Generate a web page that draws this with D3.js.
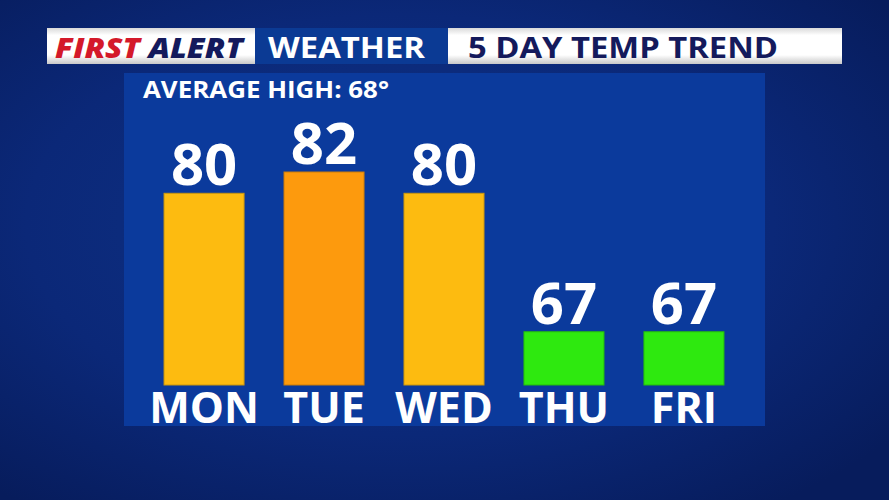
<!DOCTYPE html>
<html><head><meta charset="utf-8">
<script src="https://cdn.jsdelivr.net/npm/d3@7"></script>
<style>html,body{margin:0;padding:0;background:#0b2577;overflow:hidden}</style>
</head><body>
<svg id="c" width="889" height="500"></svg>
<script>
const days = ["MON","TUE","WED","THU","FRI"];
const highs = [80, 82, 80, 67, 67];
const barColors = ["#fdbb10","#fd9a0d","#fdbb10","#2ee90f","#2ee90f"];
const averageHigh = 68;
const titleParts = ["FIRST", "ALERT", "WEATHER", "5 DAY TEMP TREND"];

const svg = d3.select("#c");
const defs = svg.append("defs");
const bg = defs.append("radialGradient").attr("id","bg").attr("cx","45%").attr("cy","45%").attr("r","70%");
bg.append("stop").attr("offset","0%").attr("stop-color","#0f3488");
bg.append("stop").attr("offset","60%").attr("stop-color","#0b2878");
bg.append("stop").attr("offset","100%").attr("stop-color","#071c5c");
const wg = defs.append("linearGradient").attr("id","wg").attr("x1",0).attr("y1",0).attr("x2",0).attr("y2",1);
wg.append("stop").attr("offset","0%").attr("stop-color","#d9d9d9");
wg.append("stop").attr("offset","20%").attr("stop-color","#ffffff");
wg.append("stop").attr("offset","75%").attr("stop-color","#ffffff");
wg.append("stop").attr("offset","100%").attr("stop-color","#c8c8c8");

svg.append("rect").attr("width",889).attr("height",500).attr("fill","url(#bg)");

// header
const hy = 28, hh = 36;
svg.append("rect").attr("x",47).attr("y",hy).attr("width",208).attr("height",hh).attr("fill","url(#wg)");
svg.append("rect").attr("x",255).attr("y",hy).attr("width",193).attr("height",hh).attr("fill","#0b3a94");
svg.append("rect").attr("x",448).attr("y",hy).attr("width",394).attr("height",hh).attr("fill","url(#wg)");
const fa = svg.append("text").attr("x",55).attr("y",58)
  .attr("font-family","Open Sans").attr("font-weight",800).attr("font-style","italic").attr("font-size",29)
  .attr("textLength",188).attr("lengthAdjust","spacingAndGlyphs");
fa.append("tspan").attr("fill","#d4192a").text(titleParts[0]);
fa.append("tspan").attr("fill","#141a5c").text(" " + titleParts[1]);
svg.append("text").attr("x",268).attr("y",58).attr("fill","#fff")
  .attr("font-family","Open Sans").attr("font-weight",700).attr("font-size",29)
  .attr("textLength",157).attr("lengthAdjust","spacingAndGlyphs").text(titleParts[2]);
svg.append("text").attr("x",468).attr("y",58).attr("fill","#141a5c")
  .attr("font-family","Open Sans").attr("font-weight",700).attr("font-size",29)
  .attr("textLength",310).attr("lengthAdjust","spacingAndGlyphs").text(titleParts[3]);

// panel
svg.append("rect").attr("x",124).attr("y",73).attr("width",641).attr("height",353).attr("fill","#0b3a9c");
svg.append("text").attr("x",143).attr("y",98).attr("fill","#fff")
  .attr("font-family","Open Sans").attr("font-weight",700).attr("font-size",24)
  .attr("textLength",246).attr("lengthAdjust","spacingAndGlyphs")
  .text("AVERAGE HIGH: " + averageHigh + "°");

const x = d3.scaleBand().domain(days).range([144, 744]).paddingInner(0.333).paddingOuter(0.167);
const y = d3.scaleLinear().domain([62, 82]).range([385, 172]);

const g = svg.append("g");
g.selectAll("rect.bar").data(days).join("rect").attr("class","bar")
  .attr("x", d => x(d)).attr("width", x.bandwidth())
  .attr("y", (d,i) => y(highs[i])).attr("height", (d,i) => y(62) - y(highs[i]))
  .attr("fill", (d,i) => barColors[i])
  .attr("stroke", (d,i) => d3.color(barColors[i]).darker(0.6)).attr("stroke-width",1);

g.selectAll("text.val").data(days).join("text").attr("class","val")
  .attr("x", d => x(d) + x.bandwidth()/2).attr("y", (d,i) => y(highs[i]) - 8)
  .attr("text-anchor","middle").attr("fill","#fff")
  .attr("font-family","Open Sans").attr("font-weight",700).attr("font-size",58)
  .text((d,i) => highs[i]);

const axis = d3.axisBottom(x).tickSize(0).tickPadding(0);
const ax = svg.append("g").attr("transform","translate(0,423)").call(axis);
ax.select(".domain").remove();
ax.selectAll("text").attr("dy",0).attr("y",0).attr("fill","#fff")
  .attr("font-family","Open Sans").attr("font-weight",700).attr("font-size",43);
</script>
</body></html>
